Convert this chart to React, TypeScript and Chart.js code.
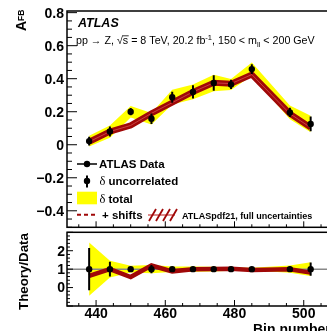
import React, { useEffect, useRef } from 'react';
import { Chart, registerables } from 'chart.js';
Chart.register(...registerables);

// ---------- data ----------
const bins = [438, 444, 450, 456, 462, 468, 474, 479, 485, 496, 502];
const afbData = [0.022, 0.08, 0.2, 0.157, 0.288, 0.32, 0.374, 0.365, 0.458, 0.196, 0.126];
const afbUncErr = [0.027, 0.03, 0.022, 0.032, 0.033, 0.04, 0.047, 0.028, 0.03, 0.028, 0.045];
const afbTotErr = [0.033, 0.037, 0.035, 0.035, 0.045, 0.045, 0.05, 0.033, 0.04, 0.042, 0.05];
const afbTheory = [0.018, 0.08, 0.117, 0.19, 0.255, 0.32, 0.375, 0.37, 0.425, 0.188, 0.104];

const ratioTheory = [0.63, 1.0, 0.57, 1.2, 0.88, 1.0, 1.01, 1.02, 0.96, 0.99, 0.81];
const ratioTotErr = [1.45, 0.45, 0.18, 0.22, 0.15, 0.14, 0.13, 0.09, 0.08, 0.2, 0.37];
const ratioUncErr = [1.15, 0.4, 0.11, 0.22, 0.11, 0.12, 0.12, 0.08, 0.07, 0.14, 0.36];

const topYTicks = [0.8, 0.6, 0.4, 0.2, 0, -0.2, -0.4];
const topYTickLabels = ['0.8', '0.6', '0.4', '0.2', '0', '\u22120.2', '\u22120.4'];
const ratioYTicks = [2, 1, 0];
const ratioYTickLabels = ['2', '1', '0'];
const xTicks = [440, 460, 480, 500];
const xTickLabels = ['440', '460', '480', '500'];

// ---------- layout ----------
const W = 345;
const H = 331;
const X_MIN = 431.6;
const X_MAX = 509.9;
const LEFT = 67;
const RIGHT = 338;
const TOP_T = 11;
const TOP_B = 227.3;
const RAT_T = 232.3;
const RAT_B = 306;

const YELLOW = '#ffff00';
const RED = '#a00808';
const RED_LIGHT = '#c84040';
const FONT = '"Liberation Sans", Arial, Helvetica, sans-serif';
const SERIF = '"Liberation Serif", "DejaVu Serif", serif';

const pts = (ys: number[]) => bins.map((b, i) => ({ x: b, y: ys[i] }));
const ptsOff = (ys: number[], es: number[], s: number) => bins.map((b, i) => ({ x: b, y: ys[i] + s * es[i] }));
const ones = bins.map(() => 1);

function drawErrorBars(chart: any, ys: number[], es: number[]) {
  const { ctx, scales } = chart;
  const x = scales.x, y = scales.y;
  ctx.save();
  ctx.strokeStyle = '#000';
  ctx.lineWidth = 2;
  ctx.beginPath();
  bins.forEach((b, i) => {
    const px = x.getPixelForValue(b);
    ctx.moveTo(px, y.getPixelForValue(ys[i] - es[i]));
    ctx.lineTo(px, y.getPixelForValue(ys[i] + es[i]));
  });
  ctx.stroke();
  ctx.restore();
}

function drawXTicks(ctx: any, x: any, yBase: number) {
  ctx.beginPath();
  for (let v = 435; v <= 505; v += 5) {
    const px = x.getPixelForValue(v);
    const len = v % 20 === 0 ? 6 : 3;
    ctx.moveTo(px, yBase);
    ctx.lineTo(px, yBase - len);
  }
  ctx.stroke();
}

const topPlugin = {
  id: 'topDecor',
  afterDatasetsDraw(chart: any) {
    drawErrorBars(chart, afbData, afbUncErr);
  },
  afterDraw(chart: any) {
    const { ctx, chartArea: a, scales } = chart;
    const x = scales.x, y = scales.y;
    ctx.save();
    ctx.strokeStyle = '#000';
    ctx.lineWidth = 1.5;
    ctx.strokeRect(a.left, a.top, a.right - a.left, a.bottom - a.top);
    ctx.lineWidth = 1;
    ctx.beginPath();
    for (let k = -10; k <= 16; k++) {
      const py = y.getPixelForValue(k * 0.05);
      const len = k % 4 === 0 ? 10 : 5;
      ctx.moveTo(a.left, py);
      ctx.lineTo(a.left + len, py);
    }
    ctx.stroke();
    drawXTicks(ctx, x, a.bottom);

    // y tick labels
    ctx.fillStyle = '#000';
    ctx.font = `bold 14px ${FONT}`;
    ctx.textAlign = 'right';
    ctx.textBaseline = 'middle';
    topYTicks.forEach((v, i) => ctx.fillText(topYTickLabels[i], 64, y.getPixelForValue(v) + 1));

    // axis title A_FB
    ctx.save();
    ctx.translate(26, 31);
    ctx.rotate(-Math.PI / 2);
    ctx.textAlign = 'left';
    ctx.textBaseline = 'alphabetic';
    ctx.font = `bold 14px ${FONT}`;
    ctx.fillText('A', 0, 0);
    const aw = ctx.measureText('A').width;
    ctx.font = `bold 8.5px ${FONT}`;
    ctx.fillText('FB', aw, -2);
    ctx.restore();

    // ATLAS label
    ctx.textAlign = 'left';
    ctx.textBaseline = 'alphabetic';
    ctx.font = `italic bold 12.5px ${FONT}`;
    ctx.fillText('ATLAS', 78, 26.7);

    // process text
    let xx = 76;
    const yy = 44.3;
    const base = `10.7px ${FONT}`;
    const small = `7.6px ${FONT}`;
    const part = (t: string, f: string, dy = 0) => {
      ctx.font = f;
      ctx.fillText(t, xx, yy + dy);
      xx += ctx.measureText(t).width;
    };
    part('pp \u2192 Z, ', base);
    part('\u221a', base);
    const sx = xx;
    part('s', base);
    ctx.lineWidth = 0.8;
    ctx.beginPath();
    ctx.moveTo(sx - 0.5, yy - 8.5);
    ctx.lineTo(xx + 0.5, yy - 8.5);
    ctx.stroke();
    part(' = 8 TeV, 20.2 fb', base);
    part('-1', small, -4.5);
    part(', 150 < m', base);
    part('ll', small, 2.5);
    part(' < 200 GeV', base);

    // legend
    const lx0 = 77, lx1 = 97, lxc = 87;
    // row 1
    ctx.strokeStyle = '#000';
    ctx.lineWidth = 1.5;
    ctx.beginPath();
    ctx.moveTo(lx0, 164);
    ctx.lineTo(lx1, 164);
    ctx.stroke();
    ctx.beginPath();
    ctx.arc(lxc, 164, 3.2, 0, Math.PI * 2);
    ctx.fill();
    ctx.font = `bold 11.5px ${FONT}`;
    ctx.fillText('ATLAS Data', 99, 167.7);
    // row 2
    ctx.lineWidth = 2;
    ctx.beginPath();
    ctx.moveTo(lxc, 175.5);
    ctx.lineTo(lxc, 187.5);
    ctx.stroke();
    ctx.beginPath();
    ctx.arc(lxc, 181, 3.2, 0, Math.PI * 2);
    ctx.fill();
    ctx.font = `12.5px ${SERIF}`;
    ctx.fillText('\u03b4', 99.5, 185);
    ctx.font = `bold 11.5px ${FONT}`;
    ctx.fillText('uncorrelated', 108.5, 185);
    // row 3
    ctx.fillStyle = YELLOW;
    ctx.fillRect(lx0, 191.7, lx1 - lx0, 12.6);
    ctx.fillStyle = '#000';
    ctx.font = `12.5px ${SERIF}`;
    ctx.fillText('\u03b4', 99.5, 202.7);
    ctx.font = `bold 11.5px ${FONT}`;
    ctx.fillText('total', 108.5, 202.7);
    // row 4
    ctx.strokeStyle = RED;
    ctx.lineWidth = 2;
    ctx.setLineDash([4, 3]);
    ctx.beginPath();
    ctx.moveTo(lx0, 214.7);
    ctx.lineTo(lx1, 214.7);
    ctx.stroke();
    ctx.setLineDash([]);
    ctx.fillText('+ shifts', 102, 219.3);
    // hatched symbol
    ctx.strokeStyle = RED_LIGHT;
    ctx.lineWidth = 1.2;
    ctx.beginPath();
    ctx.moveTo(148, 215);
    ctx.lineTo(175, 215);
    ctx.stroke();
    ctx.strokeStyle = RED;
    ctx.lineWidth = 1.8;
    ctx.beginPath();
    for (let i = 0; i < 4; i++) {
      ctx.moveTo(149 + 7 * i, 221);
      ctx.lineTo(156 + 7 * i, 209);
    }
    ctx.stroke();
    ctx.fillStyle = '#000';
    ctx.font = `bold 9px ${FONT}`;
    ctx.fillText('ATLASpdf21, full uncertainties', 182, 219);
    ctx.restore();
  },
};

const ratioPlugin = {
  id: 'ratioDecor',
  afterDatasetsDraw(chart: any) {
    drawErrorBars(chart, ones, ratioUncErr);
  },
  afterDraw(chart: any) {
    const { ctx, chartArea: a, scales } = chart;
    const x = scales.x, y = scales.y;
    ctx.save();
    ctx.strokeStyle = '#000';
    ctx.lineWidth = 1.5;
    ctx.strokeRect(a.left, a.top, a.right - a.left, a.bottom - a.top);
    ctx.lineWidth = 1;
    ctx.beginPath();
    for (let k = -5; k <= 15; k++) {
      const py = y.getPixelForValue(k * 0.2);
      const len = k % 5 === 0 ? 6 : 3;
      ctx.moveTo(a.left, py);
      ctx.lineTo(a.left + len, py);
    }
    ctx.stroke();
    drawXTicks(ctx, x, a.bottom);

    ctx.fillStyle = '#000';
    ctx.font = `bold 14px ${FONT}`;
    ctx.textAlign = 'right';
    ctx.textBaseline = 'middle';
    ratioYTicks.forEach((v, i) => ctx.fillText(ratioYTickLabels[i], 65, y.getPixelForValue(v) + 1));

    ctx.textAlign = 'center';
    ctx.textBaseline = 'alphabetic';
    xTicks.forEach((v, i) => ctx.fillText(xTickLabels[i], x.getPixelForValue(v), 318.3));

    ctx.textAlign = 'left';
    ctx.fillText('Bin number', 253, 333.5);

    ctx.save();
    ctx.translate(27.7, 271.5);
    ctx.rotate(-Math.PI / 2);
    ctx.textAlign = 'center';
    ctx.font = `bold 13.3px ${FONT}`;
    ctx.fillText('Theory/Data', 0, 0);
    ctx.restore();
    ctx.restore();
  },
};

const lineBase = { type: 'line' as const, pointRadius: 0, tension: 0, borderWidth: 0 };

export default function App() {
  const topRef = useRef<HTMLCanvasElement>(null);
  const ratRef = useRef<HTMLCanvasElement>(null);

  useEffect(() => {
    document.body.style.margin = '0';
    document.body.style.background = '#fff';
    const common = {
      responsive: false,
      animation: false as const,
      plugins: { legend: { display: false }, tooltip: { enabled: false } },
      events: [] as any[],
    };
    const top = new Chart(topRef.current!, {
      type: 'line',
      data: {
        datasets: [
          { ...lineBase, data: ptsOff(afbData, afbTotErr, -1), borderColor: YELLOW, fill: false, order: 10 },
          { ...lineBase, data: ptsOff(afbData, afbTotErr, 1), borderColor: YELLOW, backgroundColor: YELLOW, fill: '-1', order: 9 },
          { ...lineBase, data: pts(afbTheory), borderColor: RED, borderWidth: 6, fill: false, order: 5 },
          { ...lineBase, data: pts(afbTheory), borderColor: RED_LIGHT, borderWidth: 1, fill: false, order: 4 },
          { type: 'line', data: pts(afbData), showLine: false, pointRadius: 3.2, pointBackgroundColor: '#000', pointBorderWidth: 0, order: 1 },
        ] as any,
      },
      options: {
        ...common,
        layout: { padding: { left: LEFT, top: TOP_T, right: W - RIGHT, bottom: H - TOP_B } },
        scales: {
          x: { type: 'linear', min: X_MIN, max: X_MAX, display: false },
          y: { type: 'linear', min: -0.5, max: 0.81, display: false },
        },
      } as any,
      plugins: [topPlugin],
    });
    const rat = new Chart(ratRef.current!, {
      type: 'line',
      data: {
        datasets: [
          { ...lineBase, data: ptsOff(ones, ratioTotErr, -1), borderColor: YELLOW, fill: false, order: 10 },
          { ...lineBase, data: ptsOff(ones, ratioTotErr, 1), borderColor: YELLOW, backgroundColor: YELLOW, fill: '-1', order: 9 },
          { ...lineBase, data: [{ x: X_MIN, y: 1 }, { x: X_MAX, y: 1 }], borderColor: '#888888', borderWidth: 1.5, fill: false, order: 8 },
          { ...lineBase, data: pts(ratioTheory), borderColor: RED, borderWidth: 4.5, fill: false, order: 5 },
          { type: 'line', data: pts(ones), showLine: false, pointRadius: 3.2, pointBackgroundColor: '#000', pointBorderWidth: 0, order: 1 },
        ] as any,
      },
      options: {
        ...common,
        layout: { padding: { left: LEFT, top: RAT_T, right: W - RIGHT, bottom: H - RAT_B } },
        scales: {
          x: { type: 'linear', min: X_MIN, max: X_MAX, display: false },
          y: { type: 'linear', min: -1, max: 3, display: false },
        },
      } as any,
      plugins: [ratioPlugin],
    });
    return () => {
      top.destroy();
      rat.destroy();
    };
  }, []);

  return (
    <div style={{ position: 'relative', width: 327, height: 331, overflow: 'hidden', background: '#fff' }}>
      <canvas ref={topRef} width={W} height={H} style={{ position: 'absolute', left: 0, top: 0 }} />
      <canvas ref={ratRef} width={W} height={H} style={{ position: 'absolute', left: 0, top: 0 }} />
    </div>
  );
}
